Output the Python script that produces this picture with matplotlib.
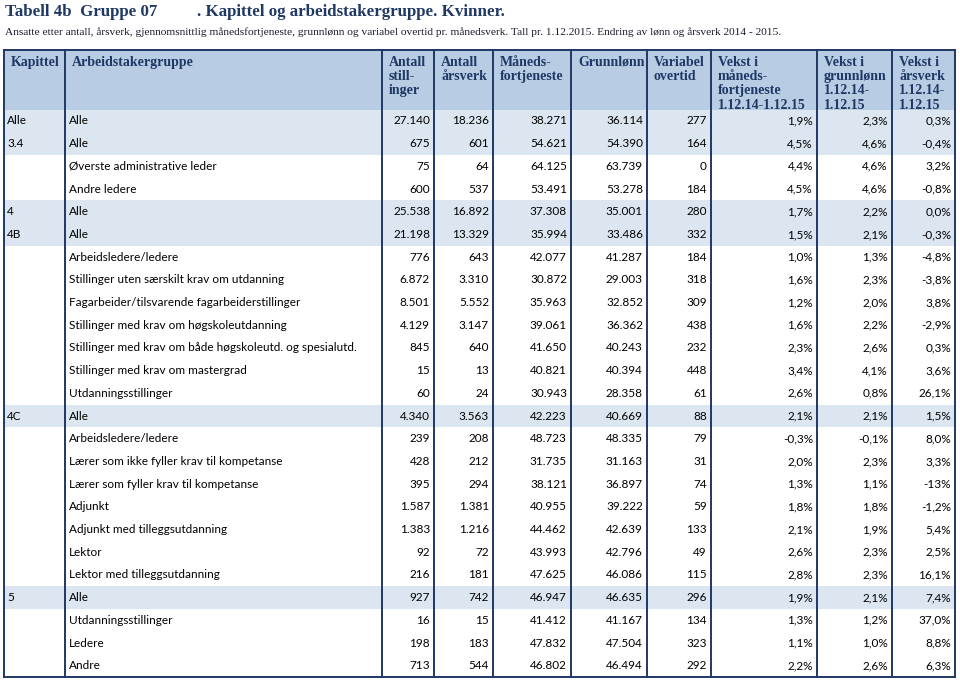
import matplotlib
matplotlib.use("Agg")
import matplotlib.pyplot as plt
from matplotlib.patches import Rectangle

# table content
kapittel = ["Alle", "3.4", "", "", "4", "4B", "", "", "", "", "", "", "", "4C",
            "", "", "", "", "", "", "", "5", "", "", ""]
gruppe = ["Alle", "Alle", "Øverste administrative leder", "Andre ledere", "Alle", "Alle",
          "Arbeidsledere/ledere", "Stillinger uten særskilt krav om utdanning",
          "Fagarbeider/tilsvarende fagarbeiderstillinger",
          "Stillinger med krav om høgskoleutdanning",
          "Stillinger med krav om både høgskoleutd. og spesialutd.",
          "Stillinger med krav om mastergrad", "Utdanningsstillinger", "Alle",
          "Arbeidsledere/ledere", "Lærer som ikke fyller krav til kompetanse",
          "Lærer som fyller krav til kompetanse", "Adjunkt", "Adjunkt med tilleggsutdanning",
          "Lektor", "Lektor med tilleggsutdanning", "Alle", "Utdanningsstillinger",
          "Ledere", "Andre"]
stillinger = [27140, 675, 75, 600, 25538, 21198, 776, 6872, 8501, 4129, 845, 15, 60, 4340,
              239, 428, 395, 1587, 1383, 92, 216, 927, 16, 198, 713]
arsverk = [18236, 601, 64, 537, 16892, 13329, 643, 3310, 5552, 3147, 640, 13, 24, 3563,
           208, 212, 294, 1381, 1216, 72, 181, 742, 15, 183, 544]
maanedsfortj = [38271, 54621, 64125, 53491, 37308, 35994, 42077, 30872, 35963, 39061, 41650,
                40821, 30943, 42223, 48723, 31735, 38121, 40955, 44462, 43993, 47625, 46947,
                41412, 47832, 46802]
grunnlonn = [36114, 54390, 63739, 53278, 35001, 33486, 41287, 29003, 32852, 36362, 40243,
             40394, 28358, 40669, 48335, 31163, 36897, 39222, 42639, 42796, 46086, 46635,
             41167, 47504, 46494]
overtid = [277, 164, 0, 184, 280, 332, 184, 318, 309, 438, 232, 448, 61, 88, 79, 31, 74, 59,
           133, 49, 115, 296, 134, 323, 292]
vekst_mnd = [1.9, 4.5, 4.4, 4.5, 1.7, 1.5, 1.0, 1.6, 1.2, 1.6, 2.3, 3.4, 2.6, 2.1, -0.3, 2.0,
             1.3, 1.8, 2.1, 2.6, 2.8, 1.9, 1.3, 1.1, 2.2]
vekst_grl = [2.3, 4.6, 4.6, 4.6, 2.2, 2.1, 1.3, 2.3, 2.0, 2.2, 2.6, 4.1, 0.8, 2.1, -0.1, 2.3,
             1.1, 1.8, 1.9, 2.3, 2.3, 2.1, 1.2, 1.0, 2.6]
vekst_arsv = [0.3, -0.4, 3.2, -0.8, 0.0, -0.3, -4.8, -3.8, 3.8, -2.9, 0.3, 3.6, 26.1, 1.5, 8.0,
              3.3, -13, -1.2, 5.4, 2.5, 16.1, 7.4, 37.0, 8.8, 6.3]
shaded = [0, 1, 4, 5, 13, 21]

headers = ["Kapittel", "Arbeidstakergruppe", "Antall\nstill-\ninger", "Antall\nårsverk",
           "Måneds-\nfortjeneste", "Grunnlønn", "Variabel\novertid",
           "Vekst i\nmåneds-\nfortjeneste\n1.12.14-1.12.15",
           "Vekst i\ngrunnlønn\n1.12.14-\n1.12.15", "Vekst i\nårsverk\n1.12.14-\n1.12.15"]


def num(v):
    return f"{v:,}".replace(",", ".")


def pct(v):
    if isinstance(v, int):
        return f"{v}%"
    return f"{v:.1f}".replace(".", ",") + "%"


# layout (pixels)
edges = [4, 65, 382, 434, 493, 571, 647, 711, 817, 892, 955]
head_top, head_bot = 50, 109.6
row_h = 22.7
navy = "#1f3864"
head_fill = "#b8cce4"
row_fill = "#dce6f1"
serif = "Liberation Serif"
sans = "Lato"
fs = 8.5

fig = plt.figure(figsize=(9.6, 6.82), dpi=100)
ax = fig.add_axes([0, 0, 1, 1])
ax.set_xlim(0, 960)
ax.set_ylim(682, 0)
ax.axis("off")

ax.text(5, 12, "Tabell 4b  Gruppe 07", fontsize=12.2, fontweight="bold", family=serif,
        color=navy, va="center")
ax.text(197, 12, ". Kapittel og arbeidstakergruppe. Kvinner.", fontsize=12.2,
        fontweight="bold", family=serif, color=navy, va="center")
ax.text(5, 32, "Ansatte etter antall, årsverk, gjennomsnittlig månedsfortjeneste, grunnlønn og "
        "variabel overtid pr. månedsverk. Tall pr. 1.12.2015. Endring av lønn og årsverk 2014 - 2015.",
        fontsize=8.2, family=serif, color="#1a1a2e", va="center")

n = len(gruppe)
bottom = head_bot + n * row_h

ax.add_patch(Rectangle((edges[0], head_top), edges[-1] - edges[0], head_bot - head_top,
                       facecolor=head_fill, edgecolor="none"))
for i in shaded:
    ax.add_patch(Rectangle((edges[0], head_bot + i * row_h), edges[-1] - edges[0], row_h,
                           facecolor=row_fill, edgecolor="none"))

for j, h in enumerate(headers):
    ax.text(edges[j] + 7, head_top + 6, h, fontsize=10, fontweight="bold", family=serif,
            color=navy, va="top", ha="left", linespacing=1.12)

cols = [stillinger, arsverk, maanedsfortj, grunnlonn, overtid]
pcols = [vekst_mnd, vekst_grl, vekst_arsv]
for i in range(n):
    y = head_bot + (i + 0.5) * row_h
    ax.text(edges[0] + 3, y, kapittel[i], fontsize=fs, family=sans, va="center")
    ax.text(edges[1] + 4, y, gruppe[i], fontsize=fs, family=sans, va="center")
    for k, c in enumerate(cols):
        ax.text(edges[k + 3] - 4, y, num(c[i]), fontsize=fs, family=sans, va="center", ha="right")
    for k, c in enumerate(pcols):
        ax.text(edges[k + 8] - 4, y, pct(c[i]), fontsize=fs, family=sans, va="center", ha="right")

for x in edges:
    ax.plot([x, x], [head_top, bottom], color=navy, lw=1.4, solid_capstyle="projecting")
ax.plot([edges[0], edges[-1]], [head_top, head_top], color=navy, lw=1.4)
ax.plot([edges[0], edges[-1]], [bottom, bottom], color=navy, lw=1.4)

fig.savefig("out.png", dpi=100)
